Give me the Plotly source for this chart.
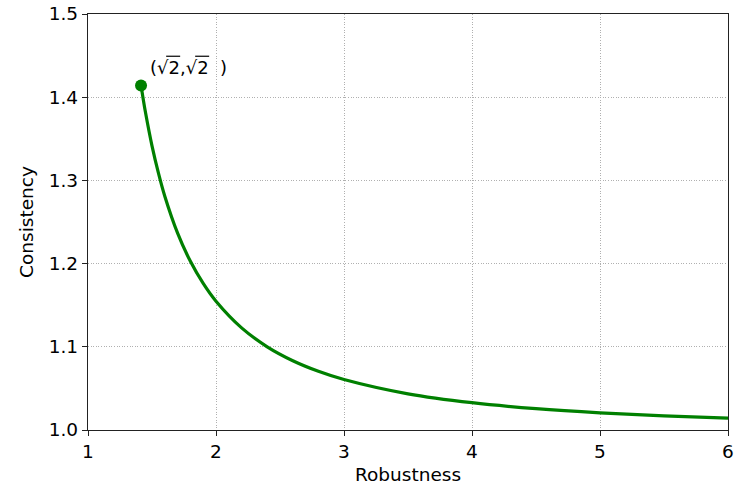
import plotly.graph_objects as go

robustness = [1.4142, 1.43, 1.45, 1.5, 1.55, 1.6, 1.7, 1.8, 1.9, 2.0, 2.2, 2.4, 2.6, 2.8, 3.0, 3.5, 4.0, 4.5, 5.0, 5.5, 6.0]
consistency = [1.4142, 1.399, 1.381, 1.3416, 1.309, 1.281, 1.2366, 1.2027, 1.1761, 1.1547, 1.1227, 1.1000, 1.0833, 1.0706, 1.0607, 1.0435, 1.0328, 1.0256, 1.0206, 1.0170, 1.0142]
point_x = [1.4142]
point_y = [1.4142]
label = "(√2,√2  )"
label_x = 1.47
label_y = 1.436

fig = go.Figure()
fig.add_trace(go.Scatter(x=robustness, y=consistency, mode="lines",
                         line=dict(color="green", width=3.2, shape="spline"),
                         showlegend=False, hoverinfo="skip"))
fig.add_trace(go.Scatter(x=point_x, y=point_y, mode="markers",
                         marker=dict(color="green", size=12),
                         showlegend=False))
fig.add_annotation(x=label_x, y=label_y, text=label, showarrow=False,
                   xanchor="left", yanchor="middle",
                   font=dict(size=18, color="black"))
# radical vinculum bars over the 2s (pixel offsets from the label anchor)
for px0, px1 in ((18, 32), (47, 61)):
    fig.add_shape(type="line", xref="x", yref="y",
                  xsizemode="pixel", ysizemode="pixel",
                  xanchor=label_x, yanchor=label_y,
                  x0=px0, x1=px1, y0=11, y1=11,
                  line=dict(color="black", width=1.2))

axis_common = dict(showline=True, linecolor="#222", linewidth=1.3, mirror=True,
                   ticks="outside", ticklen=5, tickcolor="#222",
                   showgrid=True, gridcolor="#b0b0b0", griddash="1px,1.6px", gridwidth=1,
                   zeroline=False, automargin=False,
                   tickfont=dict(size=18.5, color="black"),
                   title_font=dict(size=18.5, color="black"))
fig.update_xaxes(range=[1, 6], dtick=1, title_text="Robustness", title_standoff=6, **axis_common)
fig.update_yaxes(range=[1.0, 1.5], dtick=0.1, tickformat=".1f", title_text="Consistency", title_standoff=10, **axis_common)

fig.update_layout(width=737, height=489, margin=dict(l=88, r=9, t=14, b=59),
                  plot_bgcolor="white", paper_bgcolor="white",
                  font=dict(family="DejaVu Sans", color="black"))
fig.write_html("out.html", config={"displayModeBar": False},
               post_script="document.body.style.margin='0';document.body.style.overflow='hidden';")
